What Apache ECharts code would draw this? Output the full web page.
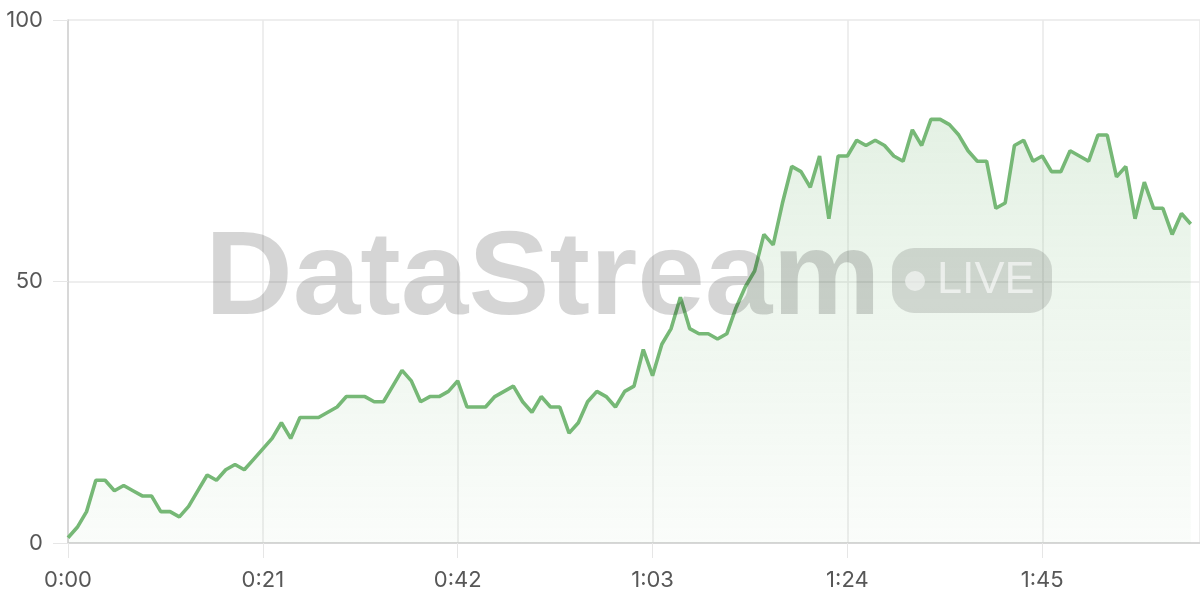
<!DOCTYPE html>
<html>
<head>
<meta charset="utf-8">
<script src="https://cdn.jsdelivr.net/npm/echarts@6/dist/echarts.min.js"></script>
<style>
html,body{margin:0;padding:0;background:#fff;}
#chart{width:1200px;height:600px;}
</style>
</head>
<body>
<div id="chart"></div>
<script>
// elapsed seconds 0..121 (one sample per second)
const seconds = Array.from({length: 122}, (_, i) => i);
const values = [
  1, 3, 6, 12, 12, 10, 11, 10, 9, 9,
  6, 6, 5, 7, 10, 13, 12, 14, 15, 14,
  16, 18, 20, 23, 20, 24, 24, 24, 25, 26,
  28, 28, 28, 27, 27, 30, 33, 31, 27, 28,
  28, 29, 31, 26, 26, 26, 28, 29, 30, 27,
  25, 28, 26, 26, 21, 23, 27, 29, 28, 26,
  29, 30, 37, 32, 38, 41, 47, 41, 40, 40,
  39, 40, 45, 49, 52, 59, 57, 65, 72, 71,
  68, 74, 62, 74, 74, 77, 76, 77, 76, 74,
  73, 79, 76, 81, 81, 80, 78, 75, 73, 73,
  64, 65, 76, 77, 73, 74, 71, 71, 75, 74,
  73, 78, 78, 70, 72, 62, 69, 64, 64, 59,
  63, 61
];
const yTicks = [0, 50, 100];
const xTickStep = 21;
const watermarkText = 'DataStream';
const badgeText = 'LIVE';

function fmtTime(v) {
  const m = Math.floor(v / 60);
  const s = Math.round(v % 60);
  return m + ':' + (s < 10 ? '0' : '') + s;
}

const chart = echarts.init(document.getElementById('chart'));
const labelFont = 'Inter, "Noto Sans", sans-serif';
chart.setOption({
  animation: false,
  grid: {left: 68, right: 0, top: 20, bottom: 57, containLabel: false},
  xAxis: {
    type: 'value',
    min: 0,
    max: 122,
    interval: xTickStep,
    axisLine: {show: true, lineStyle: {color: '#d0d0d0', width: 1.5}},
    axisTick: {show: true, length: 15, lineStyle: {color: '#e6e6e6'}},
    splitLine: {show: true, lineStyle: {color: '#e9e9e9', width: 1.5}},
    axisLabel: {
      showMaxLabel: false,
      margin: 26,
      color: '#575757',
      fontSize: 22,
      fontFamily: labelFont,
      formatter: v => (v % xTickStep === 0 ? fmtTime(v) : '')
    }
  },
  yAxis: {
    type: 'value',
    min: yTicks[0],
    max: yTicks[yTicks.length - 1],
    interval: 50,
    axisLine: {show: true, lineStyle: {color: '#d0d0d0', width: 1.5}},
    axisTick: {show: true, length: 15, lineStyle: {color: '#e6e6e6'}},
    splitLine: {show: true, lineStyle: {color: '#e9e9e9', width: 1.5}},
    axisLabel: {
      margin: 25,
      color: '#575757',
      fontSize: 22,
      fontFamily: labelFont
    }
  },
  series: [{
    type: 'line',
    data: seconds.map((s, i) => [s, values[i]]),
    showSymbol: false,
    symbol: 'none',
    lineStyle: {color: '#76b876', width: 3.6},
    itemStyle: {color: '#76b876'},
    areaStyle: {
      color: new echarts.graphic.LinearGradient(0, 0, 0, 1, [
        {offset: 0, color: 'rgba(118,184,118,0.28)'},
        {offset: 1, color: 'rgba(118,184,118,0.05)'}
      ])
    },
    z: 2
  }],
  graphic: [
    {
      type: 'text',
      z: 100,
      x: 205,
      y: 222,
      scaleX: 1.03,
      style: {
        text: watermarkText,
        font: 'bold 118px "Liberation Sans", Arial, sans-serif',
        fill: 'rgba(0,0,0,0.165)',
        textVerticalAlign: 'top'
      }
    },
    {
      type: 'rect',
      z: 100,
      shape: {x: 892, y: 248, width: 160, height: 65, r: 22},
      style: {fill: 'rgba(0,0,0,0.13)'}
    },
    {
      type: 'circle',
      z: 101,
      shape: {cx: 915, cy: 281, r: 10},
      style: {fill: 'rgba(255,255,255,0.55)'}
    },
    {
      type: 'text',
      z: 101,
      x: 937,
      y: 281,
      style: {
        text: badgeText,
        font: '500 45px "Liberation Sans", Arial, sans-serif',
        fill: 'rgba(255,255,255,0.6)',
        textVerticalAlign: 'middle'
      }
    }
  ]
});
</script>
</body>
</html>
